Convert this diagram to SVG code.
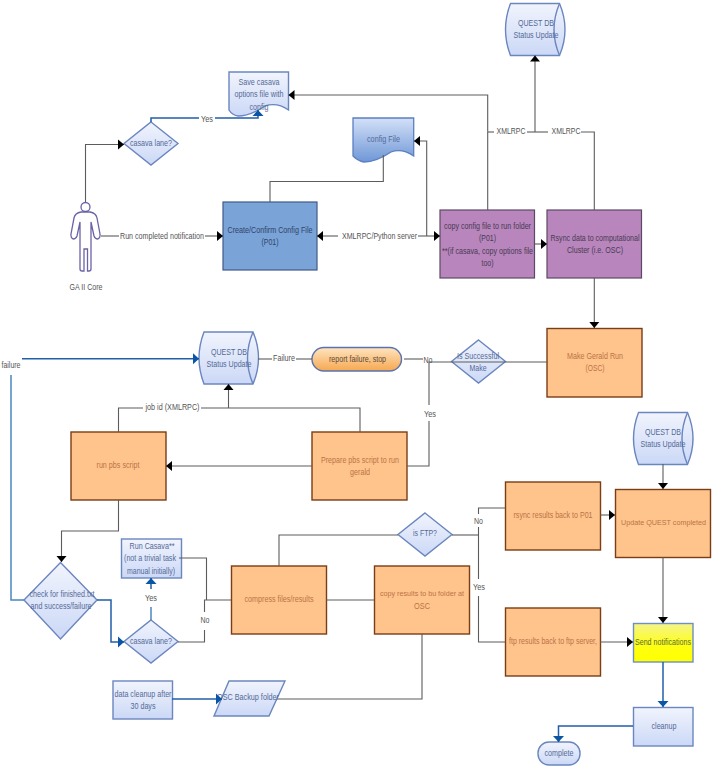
<svg xmlns="http://www.w3.org/2000/svg" xmlns:xlink="http://www.w3.org/1999/xlink" width="715" height="770" viewBox="0 0 715 770">
<style>
text{font-family:"Liberation Sans",Arial,sans-serif;font-size:9.5px;text-anchor:middle;dominant-baseline:central}
.lb{fill:#555}.tb{fill:#546a98}.to{fill:#bb7346}.tp{fill:#463c52}.tc{fill:#2f4468}.ty{fill:#5a6e20}
.sm{font-size:8px}
.n{fill:url(#gb);stroke:#6b86bf;stroke-width:1.4}
.o{fill:#ffc48c;stroke:#7a3d14;stroke-width:1.4}
.p{fill:#b985bd;stroke:#5c4a64;stroke-width:1.2}
.c{fill:none;stroke:#5c5c5c;stroke-width:1.1}
.a{marker-end:url(#ma)}
.s{marker-start:url(#ma)}
.b{fill:none;stroke:#1f5fa8;stroke-width:1.5}
.e{marker-end:url(#mb)}
.bl{fill:none;stroke:#4a86c0;stroke-width:1.5}
</style>
<defs>
<linearGradient id="gb" x1="0" y1="0" x2="0" y2="1"><stop offset="0" stop-color="#f1f4fd"/><stop offset="1" stop-color="#cbd8f6"/></linearGradient>
<linearGradient id="gc" x1="0" y1="0" x2="0" y2="1"><stop offset="0" stop-color="#d3e0f8"/><stop offset="1" stop-color="#6f97d6"/></linearGradient>
<linearGradient id="gy" x1="0" y1="0" x2="0" y2="1"><stop offset="0" stop-color="#f4f48c"/><stop offset=".6" stop-color="#ffff10"/><stop offset="1" stop-color="#ffff00"/></linearGradient>
<linearGradient id="go" x1="0" y1="0" x2="0" y2="1"><stop offset="0" stop-color="#ffe4c0"/><stop offset="1" stop-color="#f6a850"/></linearGradient>
<marker id="ma" markerUnits="userSpaceOnUse" markerWidth="7" markerHeight="11" refX="6" refY="5.5" orient="auto-start-reverse"><path d="M0,0.5 L6,5.5 L0,10.5 Z" fill="#000"/></marker>
<marker id="mb" markerUnits="userSpaceOnUse" markerWidth="7" markerHeight="12" refX="6" refY="6" orient="auto"><path d="M0,0.5 L6,6 L0,11.5 Z" fill="#0a56a5"/></marker>
<g id="cyl"><path class="n" d="M5,0 H54 Q65,26 54,52 H5 Q-5,26 5,0 Z"/><path d="M54,0 Q43,26 54,52" fill="none" stroke="#6b86bf" stroke-width="1.4"/></g>
<path id="dm" class="n" d="M0,-21.5 L27,0 L0,21.5 L-27,0 Z"/>
</defs>

<g id="person">
<circle cx="85.500" cy="207" r="4.500" fill="#fff" stroke="#6a63a8" stroke-width="1.3"/>
<path fill="#fff" stroke="#6a63a8" stroke-width="1.3" d="M81,212 Q75,213 74,218 L71,234 Q70.500,238 73,239 Q76,239 77,236 L80,222 V269 Q80,271 82,271 H84 V249 H87.500 V271 H89 Q91,271 91,269 V222 L94,236 Q95,239 98,239 Q100.500,238 100,234 L97,218 Q96,213 90,212 Z"/>
<text class="lb" x="86" y="286" textLength="33" lengthAdjust="spacingAndGlyphs">GA II Core</text>
</g>
<g id="save-doc">
<path class="n" d="M229,72 H288.500 V110 Q277,102 265,106 Q250,116 238,116 Q232,115 229,110 Z"/>
<text class="tb" x="259" y="81" textLength="41" lengthAdjust="spacingAndGlyphs">Save casava</text>
<text class="tb" x="259" y="93" textLength="49" lengthAdjust="spacingAndGlyphs">options file with</text>
<text class="tb" x="259" y="106" textLength="19" lengthAdjust="spacingAndGlyphs">config</text>
</g>
<g id="casava-1"><use xlink:href="#dm" href="#dm" x="151" y="143.500"/><text class="tb" x="151" y="142" textLength="42" lengthAdjust="spacingAndGlyphs">casava lane?</text></g>
<g id="create"><rect x="223" y="202" width="94" height="68" fill="#7aa3d8" stroke="#3f5a88" stroke-width="1.2"/>
<text class="tc" x="270" y="229" textLength="85" lengthAdjust="spacingAndGlyphs">Create/Confirm Config File</text>
<text class="tc" x="270" y="241" textLength="17" lengthAdjust="spacingAndGlyphs">(P01)</text></g>
<g id="config-doc">
<path d="M353,118 H413.700 V156 Q402,148 391,152 Q376,162 364,162 Q358,161 353,156 Z" fill="url(#gc)" stroke="#5b7fc0" stroke-width="1.3"/>
<text class="tb" x="383.500" y="138" textLength="33" lengthAdjust="spacingAndGlyphs">config File</text>
</g>
<g id="quest-1"><use xlink:href="#cyl" href="#cyl" x="505.500" y="3.500"/>
<text class="tb" x="536" y="22" textLength="36" lengthAdjust="spacingAndGlyphs">QUEST DB</text>
<text class="tb" x="536" y="34" textLength="45" lengthAdjust="spacingAndGlyphs">Status Update</text></g>
<g id="copy-config"><rect class="p" x="440" y="210" width="94.500" height="68"/>
<text class="tp" x="487.500" y="225" textLength="87" lengthAdjust="spacingAndGlyphs">copy config file to run folder</text>
<text class="tp" x="487.500" y="237" textLength="17" lengthAdjust="spacingAndGlyphs">(P01)</text>
<text class="tp" x="487.500" y="250" textLength="91" lengthAdjust="spacingAndGlyphs">**(if casava, copy options file</text>
<text class="tp" x="487.500" y="262" textLength="12" lengthAdjust="spacingAndGlyphs">too)</text></g>
<g id="rsync-data"><rect class="p" x="547" y="210" width="94.500" height="68"/>
<text class="tp" x="595" y="237" textLength="89" lengthAdjust="spacingAndGlyphs">Rsync data to computational</text>
<text class="tp" x="595" y="249" textLength="56" lengthAdjust="spacingAndGlyphs">Cluster (i.e. OSC)</text></g>
<g id="make-gerald"><rect class="o" x="547" y="328.500" width="95" height="68.500"/>
<text class="to" x="595" y="355" textLength="56" lengthAdjust="spacingAndGlyphs">Make Gerald Run</text>
<text class="to" x="595" y="367.500" textLength="19" lengthAdjust="spacingAndGlyphs">(OSC)</text></g>
<g id="is-successful"><use xlink:href="#dm" href="#dm" x="478.500" y="361.500"/>
<text class="tb" x="478" y="355" textLength="42" lengthAdjust="spacingAndGlyphs">Is Successful</text>
<text class="tb" x="478" y="367" textLength="17" lengthAdjust="spacingAndGlyphs">Make</text></g>
<g id="report"><rect x="312" y="347.500" width="89.500" height="23.500" rx="11.700" fill="url(#go)" stroke="#5a73b0" stroke-width="1.4"/>
<text fill="#5c4a3a" x="357.500" y="358" textLength="57" lengthAdjust="spacingAndGlyphs">report failure, stop</text></g>
<g id="quest-2"><use xlink:href="#cyl" href="#cyl" x="199" y="332"/>
<text class="tb" x="229" y="351" textLength="36" lengthAdjust="spacingAndGlyphs">QUEST DB</text>
<text class="tb" x="229" y="363" textLength="45" lengthAdjust="spacingAndGlyphs">Status Update</text></g>
<g id="run-pbs"><rect class="o" x="71" y="432" width="95" height="68"/>
<text class="to" x="118" y="464" textLength="43" lengthAdjust="spacingAndGlyphs">run pbs script</text></g>
<g id="prepare-pbs"><rect class="o" x="312" y="432" width="95" height="68"/>
<text class="to" x="360" y="459" textLength="78" lengthAdjust="spacingAndGlyphs">Prepare pbs script to run</text>
<text class="to" x="360" y="471" textLength="20" lengthAdjust="spacingAndGlyphs">gerald</text></g>
<g id="quest-3"><use xlink:href="#cyl" href="#cyl" x="633.500" y="412.500"/>
<text class="tb" x="663" y="431" textLength="36" lengthAdjust="spacingAndGlyphs">QUEST DB</text>
<text class="tb" x="663" y="443" textLength="45" lengthAdjust="spacingAndGlyphs">Status Update</text></g>
<g id="rsync-back"><rect class="o" x="505.500" y="482" width="95" height="68"/>
<text class="to" x="553" y="514" textLength="79" lengthAdjust="spacingAndGlyphs">rsync results back to P01</text></g>
<g id="update-quest"><rect class="o" x="615.500" y="489.500" width="95" height="68"/>
<text class="to sm" x="663.500" y="522" textLength="85" lengthAdjust="spacingAndGlyphs">Update QUEST completed</text></g>
<g id="is-ftp"><use xlink:href="#dm" href="#dm" x="425" y="534.500"/>
<text class="tb" x="425" y="532" textLength="24" lengthAdjust="spacingAndGlyphs">is FTP?</text></g>
<g id="check"><path class="n" d="M60.500,562.500 L97,600 L60.500,639 L24,600 Z"/>
<text class="tb" x="62" y="593" textLength="65" lengthAdjust="spacingAndGlyphs">check for finished.txt</text>
<text class="tb" x="61" y="605" textLength="61" lengthAdjust="spacingAndGlyphs">and success/failure</text></g>
<g id="run-casava"><rect class="n" x="121.500" y="539" width="60" height="39"/>
<text class="tb" x="152" y="545" textLength="45" lengthAdjust="spacingAndGlyphs">Run Casava**</text>
<text class="tb" x="150" y="557.500" textLength="52" lengthAdjust="spacingAndGlyphs">(not a trivial task</text>
<text class="tb" x="151" y="570" textLength="48" lengthAdjust="spacingAndGlyphs">manual initially)</text></g>
<g id="casava-2"><use xlink:href="#dm" href="#dm" x="151" y="641.500"/>
<text class="tb" x="151" y="640" textLength="42" lengthAdjust="spacingAndGlyphs">casava lane?</text></g>
<g id="compress"><rect class="o" x="231.500" y="566" width="95" height="68"/>
<text class="to" x="279" y="598" textLength="69" lengthAdjust="spacingAndGlyphs">compress files/results</text></g>
<g id="copy-results"><rect class="o" x="374.500" y="566" width="95" height="68"/>
<text class="to sm" x="422" y="593" textLength="84" lengthAdjust="spacingAndGlyphs">copy results to bu folder at</text>
<text class="to" x="422" y="605" textLength="16" lengthAdjust="spacingAndGlyphs">OSC</text></g>
<g id="ftp-results"><rect class="o" x="505.500" y="608" width="95" height="68"/>
<text class="to" x="553" y="640" textLength="88" lengthAdjust="spacingAndGlyphs">ftp results back to ftp server,</text></g>
<g id="send"><rect x="633.500" y="623.500" width="59.500" height="38.500" fill="url(#gy)" stroke="#6f8fc0" stroke-width="1.4"/>
<text class="ty" x="663" y="641" textLength="56" lengthAdjust="spacingAndGlyphs">Send notifications</text></g>
<g id="cleanup"><rect class="n" x="633.500" y="707.500" width="59.500" height="38.500"/>
<text class="tb" x="664" y="725" textLength="25" lengthAdjust="spacingAndGlyphs">cleanup</text></g>
<g id="complete"><rect class="n" x="538" y="742" width="42" height="23" rx="11"/>
<text class="tb" x="559" y="752" textLength="29" lengthAdjust="spacingAndGlyphs">complete</text></g>
<g id="data-cleanup"><rect class="n" x="113" y="681" width="59.500" height="38"/>
<text class="tb" x="143" y="693" textLength="57" lengthAdjust="spacingAndGlyphs">data cleanup after</text>
<text class="tb" x="143" y="705.500" textLength="25" lengthAdjust="spacingAndGlyphs">30 days</text></g>
<g id="osc-backup"><path class="n" d="M229,681 H285 L269,716 H214 Z"/>
<text class="tb" x="248" y="696.500" textLength="62" lengthAdjust="spacingAndGlyphs">OSC Backup folder</text></g>

<g id="connectors">
<path class="c a" d="M85.500,202 V144.500 H124"/>
<path class="b" d="M151,122 V118 H199"/>
<path class="b e" d="M215,118 H258 V110"/>
<path class="c" d="M101,236 H119"/>
<path class="c a" d="M205,236 H223"/>
<path class="c s" d="M317,236 H338"/>
<path class="c a" d="M418,236 H440"/>
<path class="c a" d="M426.700,236 V141 H414"/>
<path class="c" d="M270,202 V181.500 H383.300 V155"/>
<path class="c" d="M487.700,210 V131.500"/>
<path class="c a" d="M487.700,131.500 V95 H288.500"/>
<path class="c" d="M487.700,132 H494"/>
<path class="c" d="M527,132 H548"/>
<path class="c a" d="M535,132 V55.500"/>
<path class="c" d="M581,132 H594.300 V210"/>
<path class="c a" d="M534.700,244 H547"/>
<path class="c a" d="M594.300,278 V328"/>
<path class="c" d="M547,362 H452"/>
<path class="c" d="M452,362 H429 V405"/>
<path class="c" d="M429,421 V466 H407"/>
<path class="c" d="M404,359 H423"/>
<path class="c" d="M258,359 H272"/>
<path class="c" d="M296,359 H312"/>
<path class="c" d="M118.500,432 V408 H143"/>
<path class="c" d="M201,408 H360 V432"/>
<path class="c a" d="M228.500,408 V384"/>
<path class="c a" d="M312,466 H166"/>
<path class="c a" d="M118.500,500 V531 H61.500 V562"/>
<path class="bl" d="M11,375 V600 H24"/>
<path class="b e" d="M22,358.700 H199"/>
<path class="b e" d="M97,600 H111 V642 H124"/>
<path class="bl" d="M151,620 V607"/>
<path class="b e" d="M151,589 V578"/>
<path class="c" d="M179,558 H206.500 V600"/>
<path class="c" d="M178,642 H204.500 V630"/>
<path class="c" d="M204.500,612 V600 H231"/>
<path class="c" d="M279,566 V535 H398"/>
<path class="c" d="M326,600 H374"/>
<path class="c" d="M452,535 H479"/>
<path class="c" d="M505,508 H478.500 V514"/>
<path class="c" d="M478.500,527 V579"/>
<path class="c" d="M478.500,596 V642 H505"/>
<path class="c a" d="M600,515 H615"/>
<path class="c a" d="M663,464 V489"/>
<path class="c a" d="M663,557 V623"/>
<path class="c a" d="M600,642 H633"/>
<path class="b e" d="M663,662 V707"/>
<path class="b e" d="M633,726 H558.500 V742"/>
<path class="b e" d="M172,699 H222"/>
<path class="c" d="M422,634 V699 H278"/>
</g>

<g id="label-yes1"><text class="lb" x="207" y="118" textLength="12" lengthAdjust="spacingAndGlyphs">Yes</text></g>
<g id="label-run"><text class="lb" x="162" y="235" textLength="84" lengthAdjust="spacingAndGlyphs">Run completed notification</text></g>
<g id="label-python"><text class="lb" x="379.500" y="235" textLength="75" lengthAdjust="spacingAndGlyphs">XMLRPC/Python server</text></g>
<g id="label-x1"><text class="lb" x="511" y="130.500" textLength="29" lengthAdjust="spacingAndGlyphs">XMLRPC</text></g>
<g id="label-x2"><text class="lb" x="566" y="130.500" textLength="29" lengthAdjust="spacingAndGlyphs">XMLRPC</text></g>
<g id="label-failure"><text class="lb" x="11" y="364.500" textLength="19" lengthAdjust="spacingAndGlyphs">failure</text></g>
<g id="label-failure2"><text class="lb" x="284" y="357" textLength="22" lengthAdjust="spacingAndGlyphs">Failure</text></g>
<g id="label-job"><text class="lb" x="172.500" y="406" textLength="54" lengthAdjust="spacingAndGlyphs">job id (XMLRPC)</text></g>
<g id="label-no1"><text class="lb" x="428" y="359" textLength="9" lengthAdjust="spacingAndGlyphs">No</text></g>
<g id="label-yes2"><text class="lb" x="430" y="413" textLength="12" lengthAdjust="spacingAndGlyphs">Yes</text></g>
<g id="label-no2"><text class="lb" x="478.500" y="520" textLength="9" lengthAdjust="spacingAndGlyphs">No</text></g>
<g id="label-yes3"><text class="lb" x="479" y="586.500" textLength="12" lengthAdjust="spacingAndGlyphs">Yes</text></g>
<g id="label-yes4"><text class="lb" x="151" y="597" textLength="12" lengthAdjust="spacingAndGlyphs">Yes</text></g>
<g id="label-no3"><text class="lb" x="205" y="619.500" textLength="9" lengthAdjust="spacingAndGlyphs">No</text></g>
</svg>
